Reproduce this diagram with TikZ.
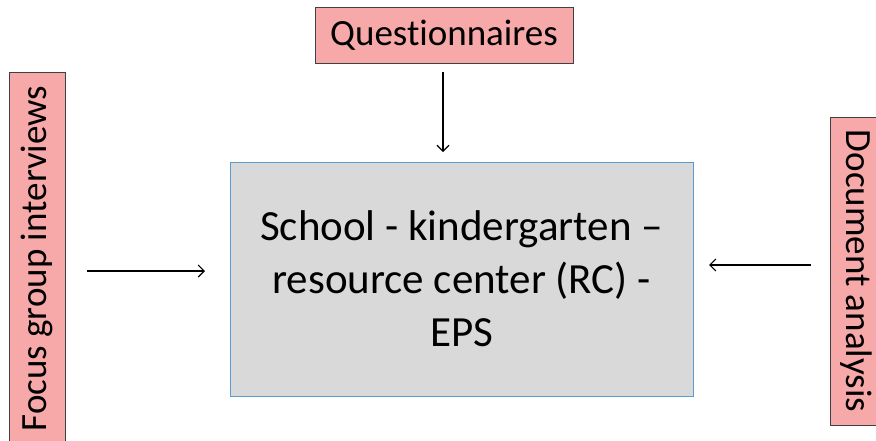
\documentclass[tikz,border=0pt]{standalone}
\usepackage{fontspec}
\setmainfont[Ligatures={TeX,NoCommon}]{Carlito}
\usetikzlibrary{arrows.meta}
\definecolor{pinkfill}{HTML}{F6A9A8}
\definecolor{greyfill}{HTML}{D9D9D9}
\definecolor{blueline}{HTML}{5B9BD5}
\tikzset{
  source/.style={draw=black!75, line width=0.8pt, fill=pinkfill, inner sep=0pt, align=center,
    font=\fontsize{37}{42}\selectfont},
  centre/.style={draw=blueline, line width=0.8pt, fill=greyfill, inner sep=0pt, align=center,
    font=\fontsize{43}{53}\selectfont},
  feed/.style={-{Straight Barb[length=6pt,width=12pt,line width=1.1pt]}, line width=1.2pt, black}
}
\begin{document}
\begin{tikzpicture}[x=1pt,y=-1pt]
  \useasboundingbox[fill=white] (0,0) rectangle (876,440);
  % central box
  \node[centre, minimum width=463pt, minimum height=234pt] (hub) at (461.5,279)
    {School - kindergarten –\\resource center (RC) -\\EPS};
  % data sources
  \node[source, minimum width=258pt, minimum height=56pt] (quest) at (444,35) {Questionnaires};
  \node[source, rotate=90, minimum width=373pt, minimum height=56pt] (focus) at (37,258.5)
    {Focus group interviews};
  \node[source, rotate=-90, minimum width=308pt, minimum height=52pt] (doc) at (856,271)
    {Document analysis};
  % arrow ends
  \coordinate (qa) at (443,72);
  \coordinate (qb) at (443,152);
  \coordinate (fa) at (87,271);
  \coordinate (fb) at (205,271);
  \coordinate (da) at (811,265);
  \coordinate (db) at (709,265);
  \draw[feed] (qa) -- (qb);
  \draw[feed] (fa) -- (fb);
  \draw[feed] (da) -- (db);
\end{tikzpicture}
\end{document}
